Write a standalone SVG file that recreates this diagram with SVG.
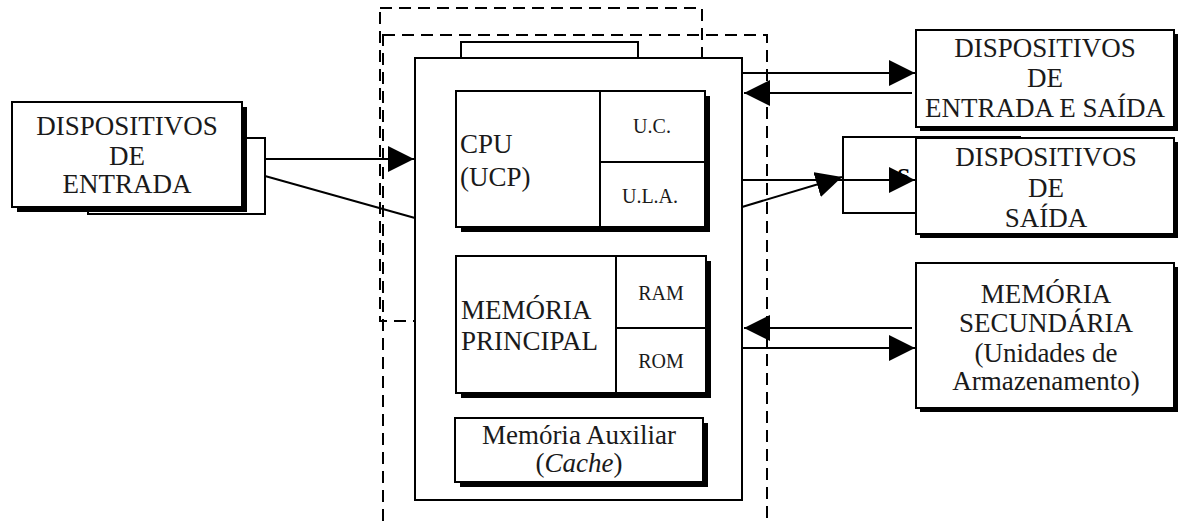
<svg xmlns="http://www.w3.org/2000/svg" width="1179" height="522" viewBox="0 0 1179 522">
<style>
.box{fill:#fff;stroke:#000;stroke-width:2}
.sh{fill:#000}
.dash{fill:none;stroke:#000;stroke-width:2;stroke-dasharray:12 7}
.ln{stroke:#000;stroke-width:2;fill:none}
.t{font-family:"Liberation Serif","Times New Roman",serif;font-size:27px;fill:#1a1a1a}
.s{font-family:"Liberation Serif","Times New Roman",serif;font-size:20px;fill:#1a1a1a}
.m{text-anchor:middle}
</style>
<defs>
<marker id="ah" markerUnits="userSpaceOnUse" markerWidth="27" markerHeight="27" refX="26" refY="13" orient="auto" viewBox="0 0 27 27">
<path d="M0,0 L26,13 L0,26 Z" fill="#000"/>
</marker>
</defs>
<g id="boundaries">
<rect class="dash" x="380" y="8" width="322" height="313"/>
<rect class="dash" x="383" y="35" width="384" height="505"/>
</g>
<g id="connectors">
<line class="ln" x1="242" y1="159" x2="414" y2="159" marker-end="url(#ah)"/>
<line class="ln" x1="265" y1="176" x2="415" y2="218"/>
<line class="ln" x1="742" y1="73" x2="915" y2="73" marker-end="url(#ah)"/>
<line class="ln" x1="912" y1="93" x2="744" y2="93" marker-end="url(#ah)"/>
<line class="ln" x1="742" y1="180" x2="915" y2="180" marker-end="url(#ah)"/>
<line class="ln" x1="742" y1="207" x2="842" y2="177" marker-end="url(#ah)"/>
<line class="ln" x1="912" y1="328" x2="744" y2="328" marker-end="url(#ah)"/>
<line class="ln" x1="742" y1="348" x2="915" y2="348" marker-end="url(#ah)"/>
</g>
<g id="computador">
<rect class="box" x="461" y="42" width="177" height="16"/>
<rect class="box" x="415" y="58" width="327" height="442"/>
</g>
<g id="cpu">
<rect class="sh" x="461" y="96" width="249" height="136"/>
<rect class="box" x="456" y="91" width="249" height="136"/>
<line class="ln" x1="600" y1="91" x2="600" y2="227"/>
<line class="ln" x1="600" y1="162" x2="705" y2="162"/>
<text class="t" x="460" y="153">CPU</text>
<text class="t" x="460" y="186">(UCP)</text>
<text class="s m" x="652" y="133">U.C.</text>
<text class="s m" x="650" y="203">U.L.A.</text>
</g>
<g id="memoria-principal">
<rect class="sh" x="461" y="261" width="250" height="137"/>
<rect class="box" x="456" y="256" width="250" height="137"/>
<line class="ln" x1="616" y1="256" x2="616" y2="393"/>
<line class="ln" x1="616" y1="328" x2="706" y2="328"/>
<text class="t" x="461" y="319">MEMÓRIA</text>
<text class="t" x="461" y="350">PRINCIPAL</text>
<text class="s m" x="661" y="300">RAM</text>
<text class="s m" x="661" y="368">ROM</text>
</g>
<g id="cache">
<rect class="sh" x="460" y="423" width="248" height="64"/>
<rect class="box" x="455" y="418" width="248" height="64"/>
<text class="t m" x="579" y="444">Memória Auxiliar</text>
<text class="t m" x="579" y="472">(<tspan font-style="italic">Cache</tspan>)</text>
</g>
<g id="entrada">
<rect class="box" x="88" y="138" width="177" height="76"/>
<rect class="sh" x="17" y="107" width="230" height="105"/>
<rect class="box" x="12" y="102" width="230" height="105"/>
<text class="t m" x="127" y="135">DISPOSITIVOS</text>
<text class="t m" x="127" y="165">DE</text>
<text class="t m" x="127" y="193">ENTRADA</text>
</g>
<g id="entrada-saida">
<rect class="sh" x="920" y="34" width="258" height="97"/>
<rect class="box" x="916" y="30" width="258" height="97"/>
<text class="t m" x="1045" y="57">DISPOSITIVOS</text>
<text class="t m" x="1045" y="87">DE</text>
<text class="t m" x="1045" y="117">ENTRADA E SAÍDA</text>
</g>
<g id="saida">
<rect class="box" x="843" y="137" width="177" height="76"/>
<text x="897" y="184" font-family="Liberation Serif, serif" font-size="24" font-weight="bold">S</text>
<line class="ln" x1="842" y1="180" x2="915" y2="180" marker-end="url(#ah)"/>
<rect class="sh" x="920" y="142" width="258" height="96"/>
<rect class="box" x="916" y="138" width="258" height="96"/>
<text class="t m" x="1046" y="166">DISPOSITIVOS</text>
<text class="t m" x="1046" y="197">DE</text>
<text class="t m" x="1046" y="227">SAÍDA</text>
</g>
<g id="memoria-secundaria">
<rect class="sh" x="920" y="267" width="258" height="145"/>
<rect class="box" x="916" y="263" width="258" height="145"/>
<text class="t m" x="1046" y="303">MEMÓRIA</text>
<text class="t m" x="1046" y="332">SECUNDÁRIA</text>
<text class="t m" x="1046" y="362">(Unidades de</text>
<text class="t m" x="1046" y="390">Armazenamento)</text>
</g>
</svg>
